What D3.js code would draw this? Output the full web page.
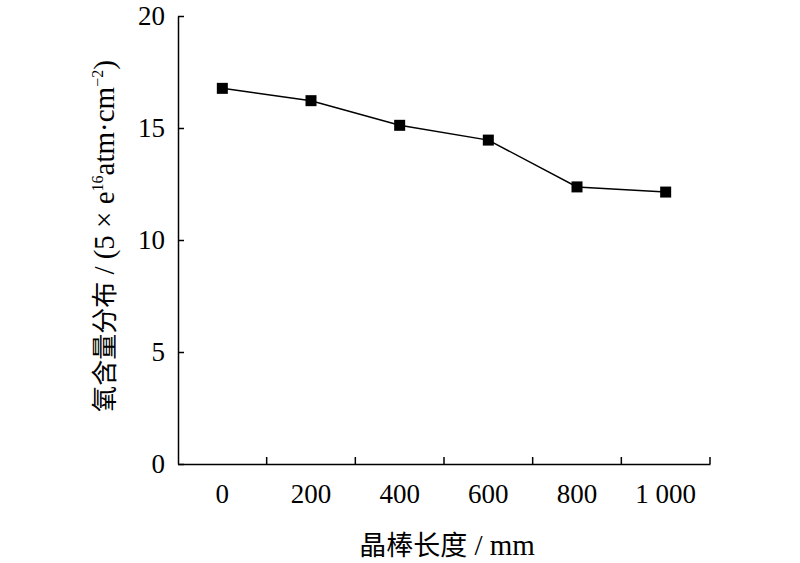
<!DOCTYPE html>
<html>
<head>
<meta charset="utf-8">
<script src="https://cdn.jsdelivr.net/npm/d3@7"></script>
<style>
  body { margin: 0; background: #fff; }
  text { font-family: "Liberation Serif", "Times New Roman", serif; fill: #000; }
  .cjk { font-family: "Noto Sans CJK SC", sans-serif; }
</style>
</head>
<body>
<div id="chart"></div>
<script>
// data
const lengths = ["0", "200", "400", "600", "800", "1 000"];
const oxygen = [16.77, 16.22, 15.12, 14.46, 12.37, 12.14];
const yTicks = [0, 5, 10, 15, 20];

const width = 800, height = 563;
const margin = {left: 178, right: 90, top: 16, bottom: 99};

const svg = d3.select("#chart").append("svg")
  .attr("width", width)
  .attr("height", height);

const x = d3.scaleBand()
  .domain(lengths)
  .range([margin.left, width - margin.right])
  .padding(0);

const y = d3.scaleLinear()
  .domain([0, 20])
  .range([height - margin.bottom, margin.top]);

// y axis, ticks pointing inward
const yAxis = svg.append("g")
  .attr("transform", `translate(${margin.left},0)`)
  .call(d3.axisLeft(y).tickValues(yTicks).tickSize(-6).tickPadding(13).tickSizeOuter(0));
yAxis.select(".domain").attr("stroke-width", 1.5);
yAxis.selectAll(".tick line").attr("stroke-width", 1.5);
yAxis.selectAll(".tick text")
  .style("font-size", "27px")
  .attr("font-family", null);

// x axis: labels centred in bands, ticks on band edges
const xAxis = svg.append("g")
  .attr("transform", `translate(0,${y(0)})`)
  .call(d3.axisBottom(x).tickSize(0).tickPadding(20).tickSizeOuter(0));
xAxis.select(".domain").attr("stroke-width", 1.5);
xAxis.selectAll(".tick text")
  .style("font-size", "27px")
  .attr("font-family", null);

svg.append("g")
  .selectAll("line")
  .data(lengths)
  .enter()
  .append("line")
    .attr("x1", d => x(d) + x.bandwidth())
    .attr("x2", d => x(d) + x.bandwidth())
    .attr("y1", y(0))
    .attr("y2", y(0) - 7)
    .attr("stroke", "#000")
    .attr("stroke-width", 1.5);

// line + square markers
const pts = lengths.map((d, i) => [x(d) + x.bandwidth() / 2, y(oxygen[i])]);

svg.append("path")
  .datum(pts)
  .attr("fill", "none")
  .attr("stroke", "#000")
  .attr("stroke-width", 1.5)
  .attr("d", d3.line());

const s = 11;
svg.append("g")
  .selectAll("rect")
  .data(pts)
  .enter()
  .append("rect")
    .attr("x", d => d[0] - s / 2)
    .attr("y", d => d[1] - s / 2)
    .attr("width", s)
    .attr("height", s)
    .attr("fill", "#000");

// axis titles
const xt = svg.append("text")
  .attr("x", 447)
  .attr("y", 555)
  .attr("text-anchor", "middle")
  .style("font-size", "29px");
xt.append("tspan").attr("class", "cjk").style("font-size", "27px").text("晶棒长度");
xt.append("tspan").text(" / mm");

const yt = svg.append("text")
  .attr("transform", "translate(114,236) rotate(-90)")
  .attr("text-anchor", "middle")
  .style("font-size", "29px");
yt.append("tspan").attr("class", "cjk").style("font-size", "26px").text("氧含量分布");
yt.append("tspan").text(" / (5 × e");
yt.append("tspan").attr("dy", -11).style("font-size", "16px").text("16");
yt.append("tspan").attr("dy", 11).text("atm·cm");
yt.append("tspan").attr("dy", -11).style("font-size", "16px").text("−2");
yt.append("tspan").attr("dy", 11).text(")");
</script>
</body>
</html>
